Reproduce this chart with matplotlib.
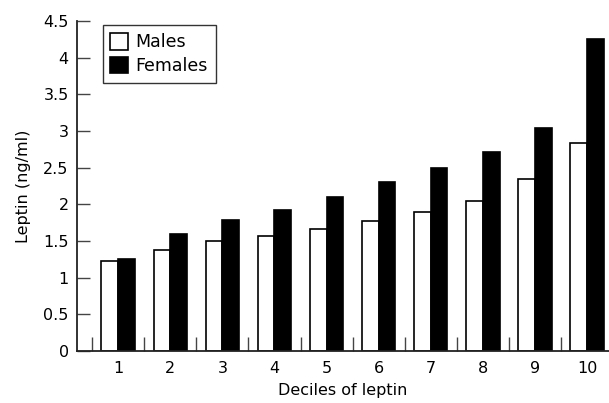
import numpy as np
import matplotlib
matplotlib.use('Agg')
import matplotlib.pyplot as plt

deciles = [1, 2, 3, 4, 5, 6, 7, 8, 9, 10]
males = [1.23, 1.38, 1.50, 1.57, 1.66, 1.77, 1.89, 2.05, 2.35, 2.84]
females = [1.26, 1.60, 1.78, 1.92, 2.10, 2.30, 2.49, 2.71, 3.04, 4.25]
yticks = [0, 0.5, 1, 1.5, 2, 2.5, 3, 3.5, 4, 4.5]
ylabels = ['0', '0.5', '1', '1.5', '2', '2.5', '3', '3.5', '4', '4.5']

plt.rcParams['font.family'] = 'DejaVu Sans'
plt.rcParams['font.size'] = 11.5

fig = plt.figure(figsize=(6.09, 4.03), dpi=100)
ax = fig.add_axes([77/609, 1-351/403, 1-77/609, (351-21)/403])

x = np.array(deciles)
w = 0.32
ax.bar(x - w/2, males, w, color='white', edgecolor='black', linewidth=1.2, label='Males')
ax.bar(x + w/2, females, w, color='black', edgecolor='black', linewidth=1.2, label='Females')

ax.set_xlim(0.21, 10.42)
ax.set_ylim(0, 4.5)
ax.set_yticks(yticks)
ax.set_yticklabels(ylabels)
ax.set_xticks(x)
ax.set_xticks(x - 0.5, minor=True)
ax.tick_params(axis='x', which='major', length=0, pad=7)
ax.tick_params(axis='x', which='minor', direction='in', length=10, width=1, color='#444444')
ax.tick_params(axis='y', direction='in', length=9.5, width=1, color='#444444', pad=6)

for s in ['top', 'right']:
    ax.spines[s].set_visible(False)
for s in ['left', 'bottom']:
    ax.spines[s].set_linewidth(1.3)
    ax.spines[s].set_color('#222222')

ax.set_xlabel('Deciles of leptin', labelpad=5)
ax.set_ylabel('Leptin (ng/ml)', labelpad=9)

leg = ax.legend(loc='upper left', bbox_to_anchor=(0.048, 0.987), frameon=True, fancybox=False,
                edgecolor='black', handlelength=1.0, handleheight=1.1, handletextpad=0.45,
                borderpad=0.45, labelspacing=0.3, borderaxespad=0, fontsize=12.5)
leg.get_frame().set_linewidth(1.0)

plt.savefig('out.png', dpi=100)
